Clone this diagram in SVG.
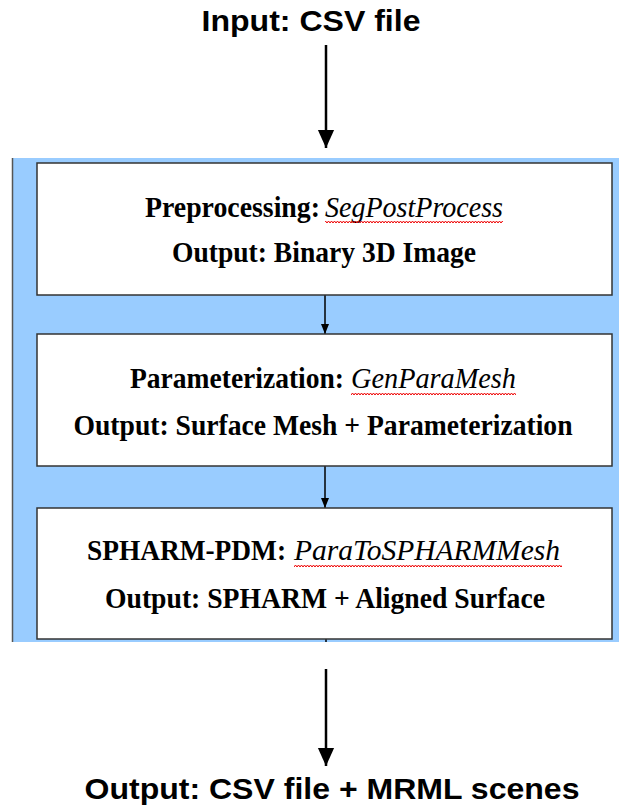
<svg xmlns="http://www.w3.org/2000/svg" width="619" height="805" viewBox="0 0 619 805">
<style>
.title{font-family:"Liberation Sans",Arial,sans-serif;font-weight:bold;font-size:30px;fill:#000;text-anchor:middle}
.bt{font-family:"Liberation Serif","Times New Roman",serif;font-weight:bold;font-size:30px;fill:#000;text-anchor:middle}
.st{font-family:"Liberation Serif","Times New Roman",serif;font-weight:bold;font-size:30px;fill:#000;text-anchor:start}
.it{font-family:"Liberation Serif","Times New Roman",serif;font-style:italic;font-size:30px;fill:#000;text-anchor:start}
.box{fill:#fff;stroke:#333;stroke-width:1.5}
.conn{stroke:#000;stroke-width:1.5;fill:none}
.big{stroke:#000;stroke-width:2.5;fill:none}
</style>
<defs>
<marker id="ah" viewBox="0 0 10 10" refX="10" refY="5" markerWidth="14" markerHeight="10" markerUnits="userSpaceOnUse" orient="auto"><path d="M0,1 L10,5 L0,9 z" fill="#000"/></marker>
<marker id="ahBig" viewBox="0 0 10 10" refX="10" refY="5" markerWidth="20" markerHeight="18" markerUnits="userSpaceOnUse" orient="auto"><path d="M0,0.5 L10,5 L0,9.5 z" fill="#000"/></marker>
<pattern id="wv" width="6" height="4" patternUnits="userSpaceOnUse"><path d="M0,3 L1.5,1 L3,3 L4.5,1 L6,3" stroke="#e00" stroke-width="1" fill="none"/></pattern>
</defs>
<g id="panel">
<rect x="12" y="158" width="607" height="484" fill="#99ccff"/>
<line x1="12.5" y1="158" x2="12.5" y2="642" stroke="#555" stroke-width="1.5"/>
</g>
<g id="input">
<text class="title" x="311" y="31" textLength="219" lengthAdjust="spacingAndGlyphs">Input: CSV file</text>
</g>
<g id="output">
<text class="title" x="332" y="799" textLength="495" lengthAdjust="spacingAndGlyphs">Output: CSV file + MRML scenes</text>
</g>
<g id="connectors">
<line class="big" x1="326" y1="45" x2="326" y2="148" marker-end="url(#ahBig)"/>
<line class="conn" x1="325" y1="295" x2="325" y2="334" marker-end="url(#ah)"/>
<line class="conn" x1="325" y1="466" x2="325" y2="508" marker-end="url(#ah)"/>
<line class="conn" x1="326" y1="639" x2="326" y2="642"/>
<line class="big" x1="326" y1="669" x2="326" y2="766" marker-end="url(#ahBig)"/>
</g>
<g id="preprocessing">
<rect class="box" x="37" y="163" width="575" height="132"/>
<text class="st" x="145" y="217" textLength="175" lengthAdjust="spacingAndGlyphs">Preprocessing:</text>
<text class="it" x="325" y="217" textLength="178" lengthAdjust="spacingAndGlyphs">SegPostProcess</text>
<rect x="325" y="219" width="178" height="4" fill="url(#wv)"/>
<text class="bt" x="324" y="262" textLength="304" lengthAdjust="spacingAndGlyphs">Output: Binary 3D Image</text>
</g>
<g id="parameterization">
<rect class="box" x="37" y="334" width="575" height="132"/>
<text class="st" x="130" y="388" textLength="214" lengthAdjust="spacingAndGlyphs">Parameterization:</text>
<text class="it" x="351" y="388" textLength="165" lengthAdjust="spacingAndGlyphs">GenParaMesh</text>
<rect x="351" y="391" width="165" height="4" fill="url(#wv)"/>
<text class="bt" x="323" y="435" textLength="499" lengthAdjust="spacingAndGlyphs">Output: Surface Mesh + Parameterization</text>
</g>
<g id="spharm">
<rect class="box" x="37" y="508" width="575" height="131"/>
<text class="st" x="87" y="560" textLength="199" lengthAdjust="spacingAndGlyphs">SPHARM-PDM:</text>
<text class="it" x="294" y="560" textLength="266" lengthAdjust="spacingAndGlyphs">ParaToSPHARMMesh</text>
<rect x="294" y="563" width="268" height="4" fill="url(#wv)"/>
<text class="bt" x="325" y="608" textLength="440" lengthAdjust="spacingAndGlyphs">Output: SPHARM + Aligned Surface</text>
</g>
</svg>
